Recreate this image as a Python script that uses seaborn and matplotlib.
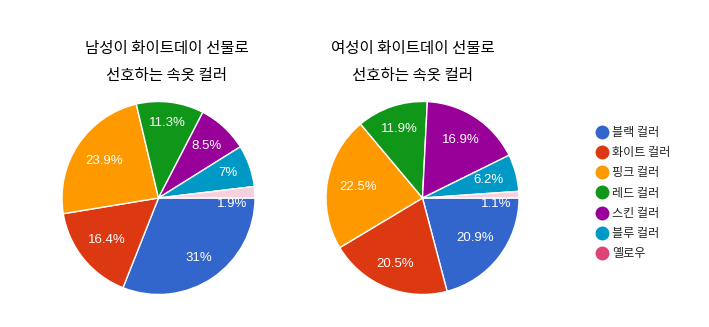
import matplotlib
matplotlib.use("Agg")
import matplotlib.pyplot as plt
import seaborn as sns
import numpy as np
from matplotlib.lines import Line2D
from matplotlib.colors import to_rgba

sns.set_theme(style="white")
plt.rcParams['font.family'] = ['Noto Sans CJK KR', 'DejaVu Sans']

categories = ["블랙 컬러", "화이트 컬러", "핑크 컬러", "레드 컬러", "스킨 컬러", "블루 컬러", "옐로우"]
male_values = [31, 16.4, 23.9, 11.3, 8.5, 7, 1.9]
female_values = [20.9, 20.5, 22.5, 11.9, 16.9, 6.2, 1.1]
male_title = "남성이 화이트데이 선물로\n선호하는 속옷 컬러"
female_title = "여성이 화이트데이 선물로\n선호하는 속옷 컬러"

colors = sns.color_palette(["#3366cc", "#dc3912", "#ff9900", "#109618",
                            "#990099", "#0099c6", "#dd4477"])

W, H = 709, 327
fig = plt.figure(figsize=(W / 100, H / 100), dpi=100)
fig.patch.set_facecolor("white")
renderer = fig.canvas.get_renderer()

R_PX = 96.5
FAR = 0.875  # farthest label-box corner sits at this fraction of radius


def fmt(v):
    return f"{v:g}%"


def draw_pie(cx_px, values):
    ax = fig.add_axes([(cx_px - R_PX) / W, (H - 198 - R_PX) / H,
                       2 * R_PX / W, 2 * R_PX / H])
    wedges, _ = ax.pie(values, colors=colors, startangle=0, counterclock=False,
                       radius=1.0,
                       wedgeprops=dict(edgecolor="white", linewidth=1))
    ax.set_xlim(-1.0, 1.0)
    ax.set_ylim(-1.0, 1.0)
    ax.set_aspect("equal")
    ax.axis("off")
    total = sum(values)
    cum = 0
    for v, w in zip(values, wedges):
        frac = v / total
        t = ax.text(0, 0, fmt(v), ha="center", va="center", color="white",
                    fontsize=9.5, family="Liberation Sans")
        bb = t.get_window_extent(renderer)
        hw = bb.width / 2 / R_PX
        hh = bb.height / 2 / R_PX * 0.8
        if frac >= 0.03:
            mid = -(cum + v / 2) / total * 2 * np.pi
            c, s = np.cos(mid), np.sin(mid)
            a, b = hw * np.sign(c), hh * np.sign(s)
            k = c * a + s * b
            d = -k + np.sqrt(k * k - (a * a + b * b - FAR ** 2))
            t.set_position((d * c, d * s))
        else:
            # tiny slice: label sits just under the slice's closing edge
            w.set_facecolor(to_rgba(colors[-1], 0.25))
            t.set_position((FAR - hw + 0.045, -hh * 1.15))
        cum += v
    return wedges


draw_pie(158.5, male_values)
draw_pie(422.5, female_values)

for x, ttl in [(167, male_title), (413, female_title)]:
    lines = ttl.split("\n")
    fig.text(x / W, 1 - 48 / H, lines[0], ha="center", va="center",
             fontsize=11.2, color="#000000")
    fig.text(x / W, 1 - 75.5 / H, lines[1], ha="center", va="center",
             fontsize=11.2, color="#000000")

handles = [Line2D([], [], marker="o", linestyle="", markersize=9,
                  markerfacecolor=c, markeredgecolor=c) for c in colors]
fig.legend(handles, categories, loc="upper left",
           bbox_to_anchor=(590 / W, 1 - 121 / H), frameon=False,
           fontsize=8.7, labelcolor="#222222", handletextpad=0.25,
           labelspacing=0.6, borderaxespad=0, handlelength=1.2)

fig.savefig("out.png", dpi=100, facecolor="white")
